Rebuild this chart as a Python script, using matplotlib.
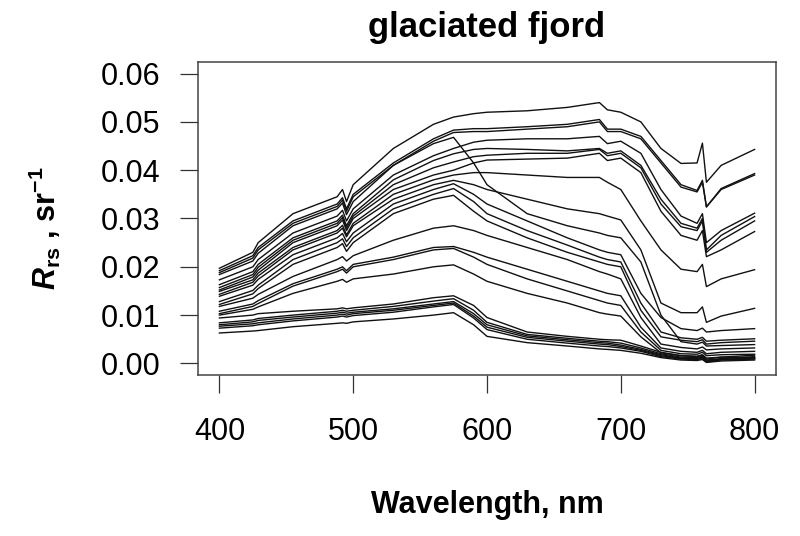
import numpy as np
import matplotlib
matplotlib.use("Agg")
import matplotlib.pyplot as plt

plt.rcParams['font.family'] = ['Liberation Sans', 'DejaVu Sans']
plt.rcParams['mathtext.fontset'] = 'custom'
plt.rcParams['mathtext.rm'] = 'Liberation Sans:bold'
plt.rcParams['mathtext.it'] = 'Liberation Sans:italic:bold'
plt.rcParams['mathtext.bf'] = 'Liberation Sans:bold'

wl = [400, 425, 429, 455, 488, 492, 495, 500, 530, 560, 575, 590, 600,
      630, 660, 684, 690, 700, 715, 730, 745, 757, 761, 764, 775, 800]

# Rrs values, units of 1e-3 sr^-1
a1 = [19.7, 23.0, 25.0, 31.0, 34.5, 36.0, 33.5, 37.0, 44.5, 49.5, 51.0, 51.7, 52.0,
      52.3, 53.0, 54.0, 52.5, 52.0, 50.0, 44.5, 41.4, 41.5, 45.6, 37.5, 41.0, 44.3]
a2 = [19.2, 22.3, 24.0, 29.5, 33.0, 34.3, 32.0, 35.0, 41.5, 46.5, 48.3, 48.6, 48.6,
      49.0, 49.5, 50.5, 48.5, 48.5, 47.0, 42.0, 37.0, 35.8, 37.9, 32.4, 36.2, 39.3]
a3 = [18.8, 21.8, 23.5, 29.0, 32.5, 33.8, 31.5, 34.5, 41.0, 46.0, 47.8, 48.0, 48.0,
      48.5, 49.0, 50.0, 48.0, 48.0, 46.5, 41.5, 36.5, 35.5, 37.5, 32.4, 36.0, 39.0]
c1 = [18.4, 21.2, 22.8, 28.5, 32.0, 33.2, 30.8, 33.5, 41.0, 45.5, 46.8, 41.5, 37.0,
      31.0, 28.5, 27.0, 26.5, 26.0, 21.0, 10.0, 4.5, 4.0, 4.4, 3.6, 3.7, 3.9]
a4 = [17.3, 20.0, 21.5, 27.0, 30.5, 31.7, 29.5, 32.0, 39.0, 43.0, 44.5, 45.8, 46.2,
      46.5, 46.5, 47.0, 45.5, 46.0, 43.5, 36.0, 30.5, 29.0, 31.0, 25.0, 27.5, 31.1]
a5 = [16.3, 19.0, 20.5, 26.0, 29.5, 30.7, 28.5, 31.0, 38.0, 42.0, 43.4, 44.3, 44.5,
      44.3, 44.0, 44.5, 43.5, 44.0, 41.0, 34.0, 29.0, 28.0, 30.0, 23.5, 26.5, 30.4]
a6 = [15.7, 18.4, 19.9, 25.5, 29.0, 30.2, 28.0, 30.5, 37.0, 40.5, 41.7, 42.8, 43.1,
      43.5, 43.5, 44.3, 43.0, 43.5, 40.5, 33.0, 28.3, 27.5, 29.5, 23.0, 25.5, 29.5]
a7 = [15.2, 17.9, 19.3, 25.0, 28.5, 29.7, 27.5, 30.0, 36.0, 39.0, 40.0, 41.5, 42.1,
      42.3, 42.5, 43.5, 42.0, 42.5, 39.5, 31.5, 26.5, 25.5, 27.5, 22.1, 23.5, 27.3]
a8 = [14.9, 17.3, 18.7, 24.0, 27.5, 28.6, 26.6, 29.0, 35.0, 38.0, 39.0, 39.5, 39.5,
      39.0, 38.5, 38.5, 37.5, 36.0, 29.5, 23.5, 19.5, 19.0, 20.5, 15.9, 17.5, 19.4]
a9 = [14.3, 16.8, 18.1, 23.5, 27.0, 28.0, 26.2, 28.5, 34.0, 37.0, 37.9, 37.0, 36.0,
      34.0, 32.0, 31.0, 30.5, 29.7, 23.5, 12.5, 10.5, 10.5, 11.7, 8.5, 9.8, 11.4]
d1 = [13.9, 16.2, 17.4, 22.5, 26.0, 26.9, 25.2, 27.0, 33.0, 36.0, 37.2, 35.0, 33.0,
      29.5, 26.0, 23.5, 23.0, 22.5, 14.5, 9.5, 7.2, 6.8, 7.3, 6.5, 6.8, 7.2]
d2 = [12.8, 15.1, 16.2, 21.5, 25.0, 25.8, 24.2, 26.0, 32.0, 35.0, 36.2, 33.5, 31.0,
      27.5, 24.5, 22.0, 21.5, 21.0, 12.5, 6.5, 5.3, 5.0, 5.4, 4.6, 4.8, 5.1]
d3 = [12.2, 14.4, 15.5, 20.5, 24.0, 24.8, 23.2, 25.0, 31.0, 34.0, 34.8, 31.5, 29.5,
      26.0, 23.0, 21.0, 20.5, 20.0, 11.0, 5.5, 4.8, 4.5, 4.9, 4.0, 4.3, 4.6]
m1 = [11.8, 13.5, 14.3, 18.0, 21.5, 22.1, 21.2, 22.3, 25.5, 28.0, 28.5, 27.5, 26.5,
      24.0, 21.5, 19.0, 18.5, 17.5, 9.5, 4.0, 3.3, 3.0, 3.4, 2.8, 3.0, 3.2]
m2 = [10.8, 12.3, 13.0, 16.5, 19.5, 20.0, 19.2, 20.5, 22.0, 24.0, 24.2, 23.0, 22.0,
      19.5, 17.0, 15.0, 14.5, 14.0, 7.5, 3.2, 2.5, 2.3, 2.7, 2.0, 2.3, 2.5]
m3 = [10.3, 11.8, 12.4, 16.0, 19.0, 19.5, 18.7, 20.0, 21.5, 23.5, 23.8, 22.0, 20.5,
      17.5, 15.0, 13.0, 12.5, 12.0, 6.5, 2.7, 2.0, 1.9, 2.3, 1.6, 1.8, 1.9]
m4 = [10.0, 11.2, 11.7, 14.5, 17.0, 17.4, 16.8, 17.5, 18.5, 20.0, 20.4, 18.5, 17.0,
      14.5, 12.5, 10.5, 10.2, 9.8, 5.5, 2.2, 1.6, 1.5, 1.8, 1.1, 1.3, 1.2]
b1 = [9.4, 10.0, 10.3, 10.8, 11.3, 11.5, 11.3, 11.5, 12.3, 13.6, 14.0, 12.0, 9.5,
      6.5, 5.6, 5.0, 4.9, 4.8, 3.6, 2.3, 1.6, 1.4, 1.7, 0.9, 1.3, 1.7]
b2 = [8.4, 9.0, 9.3, 10.0, 10.8, 11.0, 10.8, 11.0, 11.8, 12.9, 13.4, 11.0, 8.5,
      6.0, 5.2, 4.6, 4.5, 4.2, 3.2, 2.0, 1.3, 1.2, 1.5, 0.7, 1.0, 1.4]
b3 = [8.0, 8.6, 8.9, 9.6, 10.4, 10.6, 10.4, 10.6, 11.3, 12.3, 12.8, 10.3, 8.0,
      5.7, 4.9, 4.3, 4.2, 3.8, 2.9, 1.8, 1.1, 1.0, 1.3, 0.5, 0.9, 1.1]
b4 = [7.7, 8.2, 8.4, 9.2, 10.0, 10.2, 10.0, 10.3, 11.0, 12.0, 12.5, 9.8, 7.5,
      5.4, 4.6, 4.0, 3.9, 3.5, 2.7, 1.6, 1.0, 0.9, 1.1, 0.4, 0.8, 1.0]
b5 = [7.3, 7.8, 8.0, 8.8, 9.6, 9.8, 9.6, 9.9, 10.6, 11.7, 12.2, 9.4, 7.0,
      5.0, 4.2, 3.6, 3.5, 3.2, 2.5, 1.4, 0.9, 0.8, 1.0, 0.3, 0.7, 0.9]
b6 = [6.3, 6.7, 6.8, 7.6, 8.3, 8.4, 8.3, 8.6, 9.2, 10.0, 10.5, 8.0, 5.6,
      4.3, 3.6, 3.0, 2.9, 2.7, 2.1, 1.2, 0.7, 0.6, 0.8, 0.2, 0.5, 0.7]

spectra = [a1, a2, a3, c1, a4, a5, a6, a7, a8, a9, d1, d2, d3,
           m1, m2, m3, m4, b1, b2, b3, b4, b5, b6]

fig = plt.figure(figsize=(8, 5.36), dpi=100)
ax = fig.add_axes([198/800, 1 - 375/536, 578/800, 313/536])

for s in spectra:
    ax.plot(wl, np.array(s) / 1000, color='#111111', lw=1.0)

ax.set_xlim(384, 816)
ax.set_ylim(-0.0024, 0.0624)
ax.set_xticks([400, 500, 600, 700, 800])
ax.set_yticks([0.00, 0.01, 0.02, 0.03, 0.04, 0.05, 0.06])
ax.set_yticklabels(['%.2f' % v for v in ax.get_yticks()])
ax.tick_params(length=13, width=0.9, color='#333333', labelsize=22, pad=14)
ax.tick_params(axis='x', pad=17)
for sp in ax.spines.values():
    sp.set_color('#444444')
    sp.set_linewidth(1.1)

fig.text(487/800, 1 - 27/536, 'glaciated fjord', ha='center', va='center',
         fontsize=25, fontweight='bold')
fig.text(487/800, 1 - 505/536, 'Wavelength, nm', ha='center', va='center',
         fontsize=22, fontweight='bold')
fig.text(45/800, 1 - 228/536, r'$R_{\mathrm{rs}}$ , sr$^{\mathrm{-1}}$', ha='center', va='center',
         rotation=90, fontsize=22, fontweight='bold')

fig.savefig('out.png', dpi=100)
